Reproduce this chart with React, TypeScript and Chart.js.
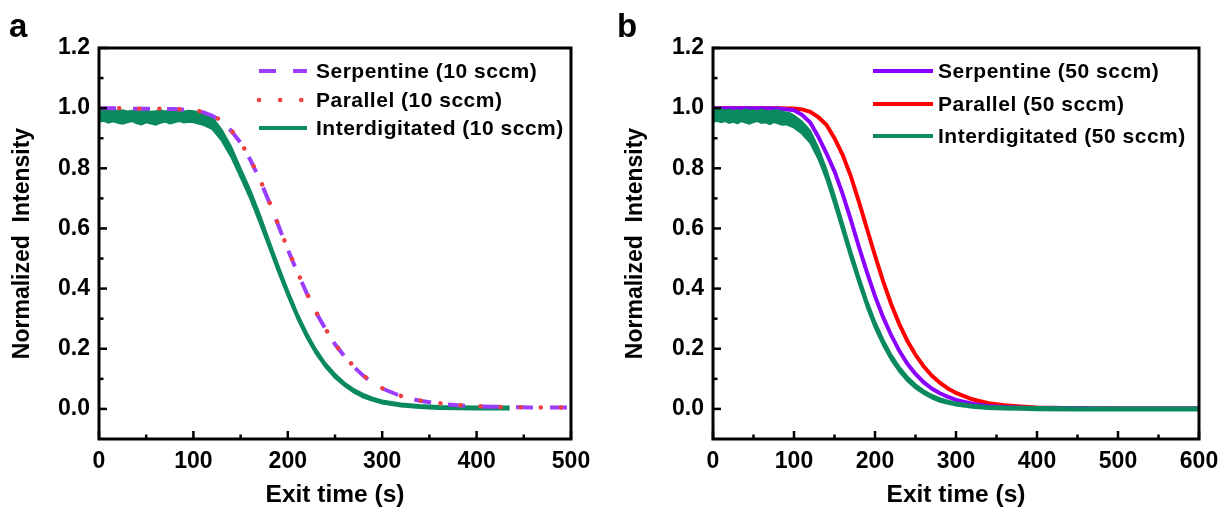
import React, { useEffect, useRef } from 'react';
import { Chart, registerables } from 'chart.js';

Chart.register(...registerables);

// ---------- Panel a (10 sccm) ----------
const serp10T = [0, 20, 40, 60, 80, 100, 110, 120, 130, 140, 150, 160, 170, 180, 190, 200, 210, 220, 230, 240, 250, 260, 270, 280, 290, 300, 320, 340, 360, 380, 400, 420, 440, 460, 480, 500];
const serp10V = [1.0, 1.0, 0.998, 0.998, 0.997, 0.993, 0.987, 0.975, 0.955, 0.925, 0.885, 0.83, 0.765, 0.69, 0.61, 0.53, 0.455, 0.385, 0.32, 0.265, 0.215, 0.175, 0.14, 0.11, 0.087, 0.068, 0.042, 0.027, 0.018, 0.012, 0.009, 0.007, 0.006, 0.005, 0.005, 0.005];
const para10V = [1.0, 1.0, 0.998, 0.998, 0.997, 0.994, 0.988, 0.977, 0.957, 0.927, 0.887, 0.832, 0.767, 0.692, 0.612, 0.532, 0.457, 0.386, 0.322, 0.266, 0.216, 0.176, 0.141, 0.111, 0.088, 0.069, 0.043, 0.028, 0.019, 0.013, 0.009, 0.007, 0.006, 0.005, 0.005, 0.005];

const inter10T = [0, 5, 10, 15, 20, 25, 30, 35, 40, 45, 50, 55, 60, 65, 70, 75, 80, 85, 90, 95, 100, 110, 120, 130, 140, 150, 160, 170, 180, 190, 200, 210, 220, 230, 240, 250, 260, 270, 280, 290, 300, 320, 340, 360, 380, 400, 420, 435];
const inter10Upper = [0.996, 0.993, 0.991, 0.995, 0.99, 0.993, 0.989, 0.991, 0.994, 0.99, 0.992, 0.988, 0.99, 0.993, 0.989, 0.992, 0.99, 0.993, 0.989, 0.991, 0.99, 0.985, 0.97, 0.928, 0.872, 0.8, 0.73, 0.65, 0.563, 0.477, 0.396, 0.32, 0.254, 0.198, 0.152, 0.117, 0.088, 0.066, 0.05, 0.037, 0.028, 0.018, 0.013, 0.01, 0.009, 0.008, 0.008, 0.008];
const inter10Lower = [0.955, 0.958, 0.952, 0.956, 0.951, 0.948, 0.953, 0.957, 0.95, 0.946, 0.953, 0.949, 0.945, 0.951, 0.955, 0.949, 0.953, 0.957, 0.952, 0.955, 0.953, 0.945, 0.93, 0.892, 0.838, 0.77, 0.7, 0.62, 0.537, 0.453, 0.374, 0.3, 0.236, 0.182, 0.138, 0.103, 0.076, 0.054, 0.038, 0.027, 0.018, 0.008, 0.003, 0.0, -0.001, -0.002, -0.002, -0.002];

// ---------- Panel b (50 sccm) ----------
const t50 = [0, 20, 40, 60, 80, 100, 110, 120, 130, 140, 150, 160, 170, 180, 190, 200, 210, 220, 230, 240, 250, 260, 270, 280, 290, 300, 320, 340, 360, 380, 400, 450, 500, 550, 600];
const serp50V = [1.0, 1.0, 1.0, 1.0, 0.999, 0.993, 0.978, 0.952, 0.905, 0.85, 0.79, 0.715, 0.63, 0.54, 0.455, 0.375, 0.305, 0.245, 0.193, 0.15, 0.116, 0.089, 0.068, 0.052, 0.04, 0.03, 0.017, 0.01, 0.006, 0.004, 0.003, 0.002, 0.001, 0.001, 0.001];
const para50V = [1.0, 1.0, 1.0, 1.0, 1.0, 0.999, 0.996, 0.988, 0.97, 0.945, 0.9, 0.845, 0.775, 0.69, 0.6, 0.51, 0.425, 0.348, 0.282, 0.226, 0.18, 0.142, 0.111, 0.087, 0.068, 0.053, 0.032, 0.019, 0.012, 0.008, 0.005, 0.002, 0.001, 0.001, 0.001];

const inter50T = [0, 5, 10, 15, 20, 25, 30, 35, 40, 45, 50, 55, 60, 65, 70, 75, 80, 85, 90, 95, 100, 110, 120, 130, 140, 150, 160, 170, 180, 190, 200, 210, 220, 230, 240, 250, 260, 270, 280, 290, 300, 320, 340, 360, 380, 400, 450, 500, 550, 600];
const inter50Upper = [0.996, 0.992, 0.997, 0.992, 0.995, 0.991, 0.994, 0.99, 0.996, 0.991, 0.993, 0.989, 0.995, 0.991, 0.989, 0.993, 0.992, 0.988, 0.986, 0.983, 0.975, 0.955, 0.925, 0.868, 0.797, 0.712, 0.621, 0.53, 0.444, 0.363, 0.292, 0.233, 0.182, 0.141, 0.108, 0.082, 0.062, 0.047, 0.036, 0.027, 0.021, 0.014, 0.01, 0.008, 0.007, 0.006, 0.005, 0.005, 0.005, 0.005];
const inter50Lower = [0.955, 0.958, 0.953, 0.957, 0.951, 0.955, 0.949, 0.957, 0.952, 0.948, 0.954, 0.957, 0.951, 0.953, 0.947, 0.954, 0.95, 0.945, 0.946, 0.941, 0.935, 0.915, 0.885, 0.832, 0.763, 0.678, 0.589, 0.5, 0.416, 0.337, 0.268, 0.211, 0.162, 0.123, 0.092, 0.068, 0.05, 0.035, 0.024, 0.017, 0.011, 0.004, 0.0, -0.002, -0.003, -0.004, -0.005, -0.005, -0.005, -0.005];

// ---------- ticks ----------
const xMajorA = [0, 100, 200, 300, 400, 500];
const xMinorA = [50, 150, 250, 350, 450];
const xMajorB = [0, 100, 200, 300, 400, 500, 600];
const xMinorB = [50, 150, 250, 350, 450, 550];
const yMajor = [0, 0.2, 0.4, 0.6, 0.8, 1.0, 1.2];
const yMinor = [0.1, 0.3, 0.5, 0.7, 0.9, 1.1];

const legendA = ['Serpentine (10 sccm)', 'Parallel (10 sccm)', 'Interdigitated (10 sccm)'];
const legendB = ['Serpentine (50 sccm)', 'Parallel (50 sccm)', 'Interdigitated (50 sccm)'];

const FONT = '"Liberation Sans", Arial, Helvetica, sans-serif';

const PURPLE_A = '#9A3DFF';
const RED_A = '#EE4040';
const GREEN_A = '#0A8A5E';
const PURPLE_B = '#8A00FF';
const RED_B = '#FF0000';
const GREEN_B = '#0A8A5E';

function pts(t: number[], v: number[]) {
  return t.map((x, i) => ({ x, y: v[i] }));
}

type LegendItem = { label: string; color: string; dash: number[]; width: number; cap: CanvasLineCap };

function makeDecor(cfg: {
  letter: string; letterX: number; letterY: number;
  xMajor: number[]; xMinor: number[];
  legend: LegendItem[]; lx1: number; lx2: number; tx: number; rows: number[]; legendFont: string;
}) {
  return {
    id: 'decor',
    afterDraw(chart: any) {
      const ctx = chart.ctx as CanvasRenderingContext2D;
      const { left, right, top, bottom } = chart.chartArea;
      const xs = chart.scales.x;
      const ys = chart.scales.y;
      ctx.save();
      ctx.strokeStyle = '#000';
      ctx.lineCap = 'butt';
      ctx.setLineDash([]);
      ctx.lineWidth = 2.5;
      const seg = (x1: number, y1: number, x2: number, y2: number) => {
        ctx.beginPath(); ctx.moveTo(x1, y1); ctx.lineTo(x2, y2); ctx.stroke();
      };
      for (const t of cfg.xMajor) { const p = xs.getPixelForValue(t); seg(p, bottom, p, bottom - 8); }
      for (const t of cfg.xMinor) { const p = xs.getPixelForValue(t); seg(p, bottom, p, bottom - 4.5); }
      for (const v of yMajor) { const p = ys.getPixelForValue(v); seg(left, p, left + 8, p); }
      for (const v of yMinor) { const p = ys.getPixelForValue(v); seg(left, p, left + 4.5, p); }
      ctx.lineWidth = 3;
      ctx.strokeRect(left, top, right - left, bottom - top);

      // legend
      cfg.legend.forEach((it, i) => {
        const y = cfg.rows[i];
        ctx.strokeStyle = it.color;
        ctx.lineWidth = it.width;
        ctx.lineCap = it.cap;
        ctx.setLineDash(it.dash);
        ctx.beginPath(); ctx.moveTo(cfg.lx1, y); ctx.lineTo(cfg.lx2, y); ctx.stroke();
        ctx.setLineDash([]);
        ctx.fillStyle = '#000';
        ctx.font = cfg.legendFont;
        ctx.textAlign = 'left';
        ctx.textBaseline = 'middle';
        (ctx as any).letterSpacing = '0.5px';
        ctx.fillText(it.label, cfg.tx, y + 1);
        (ctx as any).letterSpacing = '0px';
      });

      // panel letter
      ctx.fillStyle = '#000';
      ctx.font = `bold 33px ${FONT}`;
      ctx.textAlign = 'left';
      ctx.textBaseline = 'alphabetic';
      ctx.fillText(cfg.letter, cfg.letterX, cfg.letterY);
      ctx.restore();
    },
  };
}

function makeOptions(xMax: number, axisLeft: number, padRight: number, yTitlePad: number) {
  return {
    responsive: false,
    animation: false as const,
    events: [] as any[],
    layout: { padding: { top: 48, right: padRight, left: 0, bottom: 0 } },
    plugins: { legend: { display: false }, tooltip: { enabled: false } },
    elements: { point: { radius: 0 }, line: { tension: 0 } },
    scales: {
      x: {
        type: 'linear' as const,
        min: 0,
        max: xMax,
        grid: { display: false, drawTicks: false },
        border: { display: false },
        ticks: {
          stepSize: 100,
          padding: 9,
          color: '#000',
          font: { family: FONT, size: 23, weight: 'bold' as const },
          maxRotation: 0,
        },
        title: {
          display: true,
          text: 'Exit time (s)',
          color: '#000',
          font: { family: FONT, size: 24.5, weight: 'bold' as const },
          padding: { top: 0, bottom: 4 },
        },
        afterFit: (s: any) => { s.height = 75; },
      },
      y: {
        type: 'linear' as const,
        min: -0.1,
        max: 1.2,
        grid: { display: false, drawTicks: false },
        border: { display: false },
        ticks: {
          stepSize: 0.2,
          padding: 9,
          color: '#000',
          font: { family: FONT, size: 23, weight: 'bold' as const },
          callback: (v: any) => Number(v).toFixed(1),
        },
        afterBuildTicks: (s: any) => { s.ticks = s.ticks.filter((t: any) => t.value > -0.05); },
        title: {
          display: true,
          text: 'Normalized  Intensity',
          color: '#000',
          font: { family: FONT, size: 23, weight: 'bold' as const },
          padding: { top: yTitlePad, bottom: 0 },
        },
        afterFit: (s: any) => { s.width = axisLeft; },
      },
    },
  };
}

function PanelA() {
  const ref = useRef<HTMLCanvasElement>(null);
  useEffect(() => {
    const legend: LegendItem[] = [
      { label: legendA[0], color: PURPLE_A, dash: [17, 17], width: 4, cap: 'butt' },
      { label: legendA[1], color: RED_A, dash: [0.1, 21], width: 4.5, cap: 'round' },
      { label: legendA[2], color: GREEN_A, dash: [], width: 4, cap: 'butt' },
    ];
    const chart = new Chart(ref.current!, {
      type: 'line',
      data: {
        datasets: [
          { label: legendA[1], data: pts(serp10T, para10V), borderColor: RED_A, borderWidth: 4.5, borderDash: [0.1, 20], borderCapStyle: 'round', order: 0, fill: false },
          { label: legendA[0], data: pts(serp10T, serp10V), borderColor: PURPLE_A, borderWidth: 4, borderDash: [17, 17], order: 1, fill: false },
          { label: legendA[2] + ' upper', data: pts(inter10T, inter10Upper), borderColor: GREEN_A, backgroundColor: GREEN_A, borderWidth: 2, order: 2, fill: '+1' },
          { label: legendA[2] + ' lower', data: pts(inter10T, inter10Lower), borderColor: GREEN_A, borderWidth: 2, order: 3, fill: false },
        ] as any,
      },
      options: makeOptions(500, 99, 39, 9) as any,
      plugins: [makeDecor({
        letter: 'a', letterX: 9, letterY: 37,
        xMajor: xMajorA, xMinor: xMinorA,
        legend, lx1: 259, lx2: 307, tx: 316, rows: [71, 100, 128],
        legendFont: `bold 21px ${FONT}`,
      })],
    });
    return () => chart.destroy();
  }, []);
  return <canvas ref={ref} width={610} height={514} style={{ position: 'absolute', left: 0, top: 0, width: 610, height: 514 }} />;
}

function PanelB() {
  const ref = useRef<HTMLCanvasElement>(null);
  useEffect(() => {
    const legend: LegendItem[] = [
      { label: legendB[0], color: PURPLE_B, dash: [], width: 4, cap: 'butt' },
      { label: legendB[1], color: RED_B, dash: [], width: 4, cap: 'butt' },
      { label: legendB[2], color: GREEN_B, dash: [], width: 4, cap: 'butt' },
    ];
    const chart = new Chart(ref.current!, {
      type: 'line',
      data: {
        datasets: [
          { label: legendB[2] + ' upper', data: pts(inter50T, inter50Upper), borderColor: GREEN_B, backgroundColor: GREEN_B, borderWidth: 2, order: 0, fill: '+1' },
          { label: legendB[2] + ' lower', data: pts(inter50T, inter50Lower), borderColor: GREEN_B, borderWidth: 2, order: 1, fill: false },
          { label: legendB[0], data: pts(t50, serp50V), borderColor: PURPLE_B, borderWidth: 4, order: 2, fill: false },
          { label: legendB[1], data: pts(t50, para50V), borderColor: RED_B, borderWidth: 4, order: 3, fill: false },
        ] as any,
      },
      options: makeOptions(600, 103, 30, 12) as any,
      plugins: [makeDecor({
        letter: 'b', letterX: 7, letterY: 37,
        xMajor: xMajorB, xMinor: xMinorB,
        legend, lx1: 263, lx2: 323, tx: 328, rows: [71, 104, 136],
        legendFont: `bold 21px ${FONT}`,
      })],
    });
    return () => chart.destroy();
  }, []);
  return <canvas ref={ref} width={619} height={514} style={{ position: 'absolute', left: 610, top: 0, width: 619, height: 514 }} />;
}

export default function App() {
  return (
    <div style={{ position: 'absolute', left: 0, top: 0, width: 1229, height: 514, background: '#fff' }}>
      <PanelA />
      <PanelB />
    </div>
  );
}
